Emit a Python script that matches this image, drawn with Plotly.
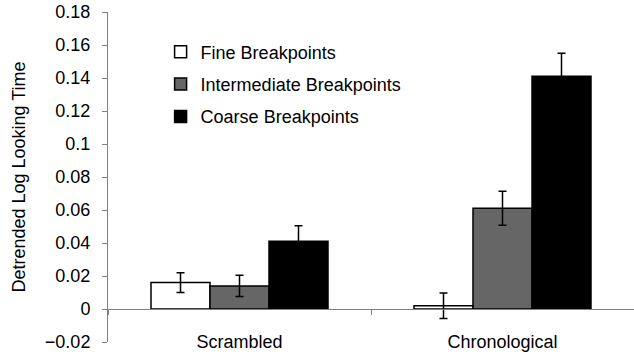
import plotly.graph_objects as go

categories = ["Scrambled", "Chronological"]
series_names = ["Fine Breakpoints", "Intermediate Breakpoints", "Coarse Breakpoints"]
fine_vals = [0.016, 0.002]
fine_err = [0.006, 0.0077]
inter_vals = [0.014, 0.061]
inter_err = [0.0064, 0.0103]
coarse_vals = [0.041, 0.141]
coarse_err = [0.0095, 0.014]
y_tickvals = [-0.02, 0, 0.02, 0.04, 0.06, 0.08, 0.1, 0.12, 0.14, 0.16, 0.18]
y_ticktext = ["\u22120.02", "0", "0.02", "0.04", "0.06", "0.08", "0.1", "0.12", "0.14", "0.16", "0.18"]

fills = ["#ffffff", "#666666", "#000000"]
values = [fine_vals, inter_vals, coarse_vals]
errors = [fine_err, inter_err, coarse_err]

FONT = "Liberation Sans, Arial, sans-serif"
fig = go.Figure()
for i, name in enumerate(series_names):
    fig.add_trace(go.Bar(
        x=categories, y=values[i], name=name,
        legendgroup=name,
        marker=dict(color=fills[i], line=dict(color="#000000", width=1.5)),
        error_y=dict(type="data", array=errors[i], visible=True,
                     color="#000000", thickness=1.5, width=4),
    ))

fig.update_layout(
    width=634, height=356,
    margin=dict(l=108, r=0, t=12, b=14),
    paper_bgcolor="white", plot_bgcolor="white",
    font=dict(family=FONT, size=18, color="#000000"),
    barmode="group", bargap=0.327, bargroupgap=0,
    showlegend=True,
    legend=dict(x=0.10, y=0.935, xanchor="left", yanchor="top",
                traceorder="grouped", tracegroupgap=6,
                bgcolor="rgba(0,0,0,0)", font=dict(size=18, family=FONT)),
    xaxis=dict(
        anchor="free", position=0.1,
        showline=True, linecolor="#808080", linewidth=1,
        ticks="outside", tickson="boundaries", ticklen=5, tickcolor="#808080",
        ticklabelstandoff=16,
        showgrid=False, zeroline=False,
        tickfont=dict(size=18, family=FONT),
    ),
    yaxis=dict(
        range=[-0.02, 0.18], tickvals=y_tickvals, ticktext=y_ticktext,
        showline=True, linecolor="#808080", linewidth=1,
        ticks="outside", ticklen=5, tickcolor="#808080",
        ticklabelstandoff=8,
        showgrid=False, zeroline=False,
        tickfont=dict(size=18, family=FONT),
        title=dict(text="Detrended Log Looking Time", standoff=14,
                   font=dict(size=18, family=FONT)),
        automargin=False,
    ),
)

fig.write_html("out.html")
